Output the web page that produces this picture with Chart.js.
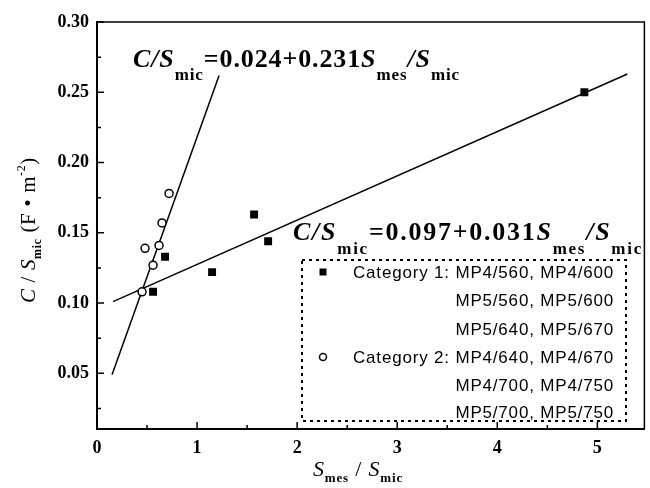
<!DOCTYPE html>
<html>
<head>
<meta charset="utf-8">
<script src="https://cdn.jsdelivr.net/npm/chart.js@4.4.1/dist/chart.umd.min.js"></script>
<style>
  html, body { margin: 0; padding: 0; background: #fff; }
  canvas { display: block; }
</style>
</head>
<body>
<canvas id="chart" width="650" height="488"></canvas>
<script>
// axis ticks
const xTicks = [0, 1, 2, 3, 4, 5];
const yTicks = [0.05, 0.10, 0.15, 0.20, 0.25, 0.30];

// category 1 (filled squares)
const cat1X = [0.56, 0.68, 1.15, 1.57, 1.71, 4.87];
const cat1Y = [0.108, 0.133, 0.122, 0.163, 0.144, 0.250];

// category 2 (open circles)
const cat2X = [0.45, 0.48, 0.56, 0.62, 0.65, 0.72];
const cat2Y = [0.108, 0.139, 0.127, 0.141, 0.157, 0.178];

// fitted lines, end points as drawn
const fit1X = [0.15, 1.22];
const fit1Y = [0.049, 0.262];
const fit2X = [0.16, 5.30];
const fit2Y = [0.101, 0.263];

const legendRows = [
    'Category 1: MP4/560, MP4/600',
    'MP5/560, MP5/600',
    'MP5/640, MP5/670',
    'Category 2: MP4/640, MP4/670',
    'MP4/700, MP4/750',
    'MP5/700, MP5/750'
];

const toPoints = (xs, ys) => xs.map((x, i) => ({ x: x, y: ys[i] }));

const SERIF = '"Liberation Serif", "Times New Roman", serif';
const SANS = '"Liberation Sans", Arial, sans-serif';

// draws a run of text pieces: [text, font, dy]
function drawRich(ctx, x, y, parts, fitWidth) {
    let w = 0, n = 0;
    ctx.letterSpacing = '0px';
    parts.forEach(p => { ctx.font = p[1]; w += ctx.measureText(p[0]).width; n += p[0].length; });
    const ls = fitWidth ? (fitWidth - w) / n : 0;
    ctx.letterSpacing = ls + 'px';
    let cx = x;
    parts.forEach(p => {
        ctx.font = p[1];
        ctx.fillText(p[0], cx, y + p[2]);
        cx += ctx.measureText(p[0]).width;
    });
    ctx.letterSpacing = '0px';
    return w + ls * n;
}

const decorations = {
    id: 'decorations',
    afterDatasetsDraw(chart) {
        const ctx = chart.ctx;
        const a = chart.chartArea;
        const xs = chart.scales.x, ys = chart.scales.y;
        ctx.save();
        ctx.strokeStyle = '#000';
        ctx.fillStyle = '#000';

        // top and right frame
        ctx.lineWidth = 1.5;
        ctx.beginPath();
        ctx.moveTo(a.left, a.top);
        ctx.lineTo(a.right, a.top);
        ctx.lineTo(a.right, a.bottom);
        ctx.stroke();

        // inward ticks, major + minor
        ctx.lineWidth = 1.5;
        ctx.beginPath();
        xTicks.forEach((v, i) => {
            const px = xs.getPixelForValue(v);
            ctx.moveTo(px, a.bottom); ctx.lineTo(px, a.bottom - 7);
            const m = xs.getPixelForValue(v + 0.5);
            if (m < a.right - 2) { ctx.moveTo(m, a.bottom); ctx.lineTo(m, a.bottom - 4); }
        });
        yTicks.forEach(v => {
            const py = ys.getPixelForValue(v);
            ctx.moveTo(a.left, py); ctx.lineTo(a.left + 7, py);
            const m = ys.getPixelForValue(v - 0.025);
            if (m < a.bottom - 2) { ctx.moveTo(a.left, m); ctx.lineTo(a.left + 4, m); }
        });
        ctx.stroke();

        // equations
        ctx.textAlign = 'left';
        ctx.textBaseline = 'alphabetic';
        const bi = 'italic bold 26px ' + SERIF;
        const b = 'bold 26px ' + SERIF;
        const sb = 'bold 17px ' + SERIF;
        drawRich(ctx, 133, 67, [
            ['C/S', bi, 0], ['mic', sb, 13], ['=0.024+0.231', b, 0],
            ['S', bi, 0], ['mes', sb, 13], ['/S', bi, 0], ['mic', sb, 13]
        ], 327);
        drawRich(ctx, 293, 240, [
            ['C/S', bi, 0], ['mic', sb, 14], ['=0.097+0.031', b, 0],
            ['S', bi, 0], ['mes', sb, 14], ['/S', bi, 0], ['mic', sb, 14]
        ], 350);

        // legend box
        ctx.lineWidth = 2;
        ctx.setLineDash([3, 4]);
        ctx.strokeRect(302, 260, 324, 161);
        ctx.setLineDash([]);
        ctx.font = '17px ' + SANS;
        ctx.textAlign = 'right';
        const natural = ctx.measureText(legendRows[0]).width;
        ctx.letterSpacing = ((261 - natural) / legendRows[0].length) + 'px';
        const rowY = [272, 300, 329, 357, 385, 412];
        legendRows.forEach((t, i) => ctx.fillText(t, 614, rowY[i] + 6));
        ctx.letterSpacing = '0px';
        ctx.fillRect(319.5, rowY[0] - 3.5, 7, 7);
        ctx.lineWidth = 1.5;
        ctx.beginPath();
        ctx.arc(323, rowY[3], 3.5, 0, Math.PI * 2);
        ctx.stroke();

        // axis titles
        ctx.textAlign = 'left';
        const ti = 'italic 22px ' + SERIF;
        const tr = '22px ' + SERIF;
        const ts = 'bold 13px ' + SERIF;
        drawRich(ctx, 313, 476, [
            ['S', ti, 0], ['mes', ts, 6], [' / ', tr, 0], ['S', ti, 0], ['mic', ts, 6]
        ], 90);

        ctx.translate(35, 230);
        ctx.rotate(-Math.PI / 2);
        const yParts = [
            ['C', 'italic 21px ' + SERIF, 0], [' / ', '21px ' + SERIF, 0], ['S', 'italic 21px ' + SERIF, 0],
            ['mic', 'bold 12px ' + SERIF, 6], [' (F \u2022 m', '21px ' + SERIF, 0],
            ['-2', '12px ' + SERIF, -10], [')', '21px ' + SERIF, 0]
        ];
        drawRich(ctx, -73, 0, yParts, 146);
        ctx.restore();
    }
};

new Chart(document.getElementById('chart'), {
    type: 'scatter',
    data: {
        datasets: [
            {
                label: 'Category 1',
                data: toPoints(cat1X, cat1Y),
                pointStyle: 'rect',
                pointRadius: 5.6,
                backgroundColor: '#000',
                borderColor: '#000',
                borderWidth: 0,
                order: 0
            },
            {
                label: 'Category 2',
                data: toPoints(cat2X, cat2Y),
                pointStyle: 'circle',
                pointRadius: 4,
                backgroundColor: '#fff',
                borderColor: '#000',
                borderWidth: 1.5,
                order: 0
            },
            {
                label: 'Fit 2',
                data: toPoints(fit1X, fit1Y),
                showLine: true,
                pointRadius: 0,
                borderColor: '#000',
                borderWidth: 1.5,
                order: 1
            },
            {
                label: 'Fit 1',
                data: toPoints(fit2X, fit2Y),
                showLine: true,
                pointRadius: 0,
                borderColor: '#000',
                borderWidth: 1.5,
                order: 1
            }
        ]
    },
    options: {
        responsive: false,
        animation: false,
        layout: { padding: { top: 22, right: 2, left: 0, bottom: 0 } },
        plugins: {
            legend: { display: false },
            tooltip: { enabled: false }
        },
        scales: {
            x: {
                type: 'linear',
                min: 0,
                max: 5.47,
                afterBuildTicks: s => { s.ticks = xTicks.map(v => ({ value: v })); },
                afterFit: s => { s.height = 59; },
                grid: { display: false, drawTicks: false },
                border: { display: true, color: '#000', width: 2 },
                ticks: {
                    color: '#000',
                    padding: 9,
                    maxRotation: 0,
                    font: { family: SERIF, size: 18, weight: 'bold' },
                    callback: v => String(v)
                }
            },
            y: {
                type: 'linear',
                min: 0.0104,
                max: 0.30,
                afterBuildTicks: s => { s.ticks = yTicks.map(v => ({ value: v })); },
                afterFit: s => { s.width = 97; },
                grid: { display: false, drawTicks: false },
                border: { display: true, color: '#000', width: 2 },
                ticks: {
                    color: '#000',
                    padding: 8,
                    font: { family: SERIF, size: 18, weight: 'bold' },
                    callback: v => v.toFixed(2)
                }
            }
        }
    },
    plugins: [decorations]
});
</script>
</body>
</html>
